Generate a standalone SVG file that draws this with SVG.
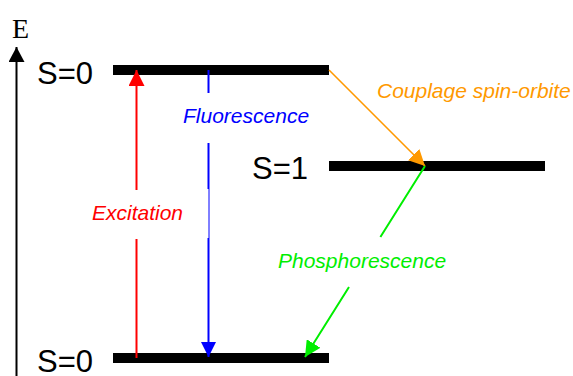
<svg xmlns="http://www.w3.org/2000/svg" width="573" height="376" viewBox="0 0 573 376">
<style>
.lvl{fill:#000}
.st{font-family:"Liberation Sans",Arial,sans-serif;font-size:31px;fill:#000}
.lab{font-family:"Liberation Sans",Arial,sans-serif;font-size:21px;font-style:italic}
.ax{font-family:"Liberation Serif","Times New Roman",serif;font-size:28px;fill:#000}
</style>
<defs>
<marker id="ak" markerUnits="userSpaceOnUse" markerWidth="15" markerHeight="16" refX="15" refY="8" orient="auto" viewBox="0 0 15 16"><path d="M0,0 L15,8 L0,16 z" fill="#000"/></marker>
<marker id="ar" markerUnits="userSpaceOnUse" markerWidth="16" markerHeight="16" refX="16" refY="8" orient="auto" viewBox="0 0 16 16"><path d="M0,0 L16,8 L0,16 z" fill="#ff0000"/></marker>
<marker id="ab" markerUnits="userSpaceOnUse" markerWidth="15" markerHeight="15" refX="15" refY="7.5" orient="auto" viewBox="0 0 15 15"><path d="M0,0 L15,7.5 L0,15 z" fill="#0000ff"/></marker>
<marker id="ao" markerUnits="userSpaceOnUse" markerWidth="16" markerHeight="16" refX="16" refY="8" orient="auto" viewBox="0 0 16 16"><path d="M0,0 L16,8 L0,16 z" fill="#ff9900"/></marker>
<marker id="ag" markerUnits="userSpaceOnUse" markerWidth="16" markerHeight="16" refX="16" refY="8" orient="auto" viewBox="0 0 16 16"><path d="M0,0 L16,8 L0,16 z" fill="#00ee00"/></marker>
</defs>
<g id="axis">
<path d="M16.5,376 V47" stroke="#000" stroke-width="2" fill="none" marker-end="url(#ak)"/>
<text class="ax" x="12" y="38">E</text>
</g>
<g id="s0-top">
<rect class="lvl" x="113" y="65" width="216" height="10"/>
<text class="st" x="37" y="84">S=0</text>
</g>
<g id="s1">
<rect class="lvl" x="329" y="161" width="216" height="10"/>
<text class="st" x="252" y="179">S=1</text>
</g>
<g id="s0-bottom">
<rect class="lvl" x="113" y="353" width="216" height="10"/>
<text class="st" x="37" y="372">S=0</text>
</g>
<g id="connectors" fill="none">
<path d="M136.5,358 V239 M136.5,190 V70" stroke="#ff0000" stroke-width="2" marker-end="url(#ar)"/>
<path d="M208.5,70 V93 M208.5,143 V189" stroke="#0000ff" stroke-width="2"/>
<path d="M209,189 V238" stroke="#0000ff" stroke-width="1"/>
<path d="M208.5,238 V357" stroke="#0000ff" stroke-width="2" marker-end="url(#ab)"/>
<path d="M329,70 L425,166" stroke="#ff9900" stroke-width="1.6" marker-end="url(#ao)"/>
<path d="M425,166 L380.4,237 M349,287 L305,357" stroke="#00ee00" stroke-width="2" marker-end="url(#ag)"/>
</g>
<g id="labels">
<text class="lab" x="92" y="220" fill="#ff0000">Excitation</text>
<text class="lab" x="183" y="123" fill="#0000ff">Fluorescence</text>
<text class="lab" x="377" y="98" fill="#ff9900">Couplage spin-orbite</text>
<text class="lab" x="278" y="268" fill="#00ee00">Phosphorescence</text>
</g>
</svg>
